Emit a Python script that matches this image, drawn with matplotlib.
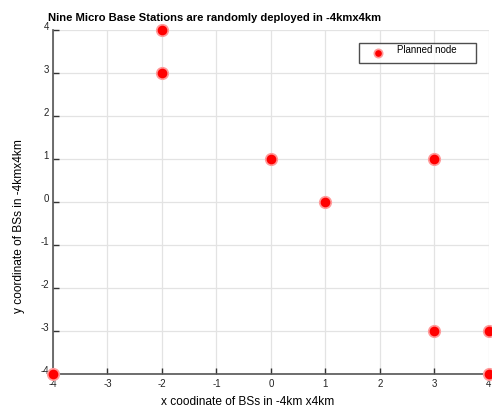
import matplotlib
matplotlib.use('Agg')
import matplotlib.pyplot as plt
import matplotlib.transforms as mtransforms
from matplotlib.lines import Line2D

# base station positions (km)
bs_x = [-4, -2, -2, 0, 1, 3, 3, 4, 4]
bs_y = [-4, 4, 3, 1, 0, 1, -3, -3, -4]
ticks = [-4, -3, -2, -1, 0, 1, 2, 3, 4]

plt.rcParams['font.family'] = ['Liberation Sans', 'DejaVu Sans']
plt.rcParams['axes.unicode_minus'] = False

fig = plt.figure(figsize=(4.92, 4.10), dpi=100)
ax = fig.add_axes([0.1077, 0.0854, 0.8862, 0.839])

# halo + core marker
ax.plot(bs_x, bs_y, 'o', ms=9.5, color='#ff9a9a', mec='none', clip_on=False, zorder=3)
ax.plot(bs_x, bs_y, 'o', ms=7, color='#ff0000', mec='none', clip_on=False, zorder=4)

ax.set_xlim(-4, 4)
ax.set_ylim(-4, 4)
ax.set_xticks(ticks)
ax.set_yticks(ticks)
ax.grid(True, color='#e3e3e3', lw=0.9)
ax.set_axisbelow(True)

for s in ['top', 'right']:
    ax.spines[s].set_visible(False)
for s in ['left', 'bottom']:
    ax.spines[s].set_color('#555555')
    ax.spines[s].set_linewidth(1.2)
ax.tick_params(direction='in', length=4, width=1, color='#333333',
               labelsize=7, labelcolor='#222222', pad=3)

# y labels sit a bit above their ticks
off = mtransforms.ScaledTranslation(0, 5 / 100, fig.dpi_scale_trans)
for lbl in ax.get_yticklabels():
    lbl.set_transform(lbl.get_transform() + off)

ax.set_title('Nine Micro Base Stations are randomly deployed in -4kmx4km',
             fontsize=8.1, fontweight='bold', loc='left', x=-0.012, pad=7)
ax.set_xlabel('x coodinate of BSs in -4km x4km', fontsize=8.6)
ax.set_ylabel('y coordinate of BSs in -4kmx4km', fontsize=8.6)
ax.xaxis.set_label_coords(0.447, -0.062)
ax.yaxis.set_label_coords(-0.064, 0.432)

# legend box
h = [Line2D([], [], ls='none', marker='o', ms=6, color='#ff0000',
            mec='#ff9a9a', mew=1.2)]
leg = ax.legend(h, ['Planned node'], loc='upper left',
                bbox_to_anchor=(0.702, 0.962, 0.268, 0.0), mode='expand',
                fontsize=7, frameon=True, fancybox=False,
                edgecolor='#222222', borderpad=0.5, handletextpad=0.6,
                borderaxespad=0, handlelength=2.8)
leg.get_frame().set_linewidth(1)
off_t = mtransforms.ScaledTranslation(0, 4 / 100, fig.dpi_scale_trans)
for t in leg.get_texts():
    t.set_transform(t.get_transform() + off_t)

plt.savefig('out.png', dpi=100)
